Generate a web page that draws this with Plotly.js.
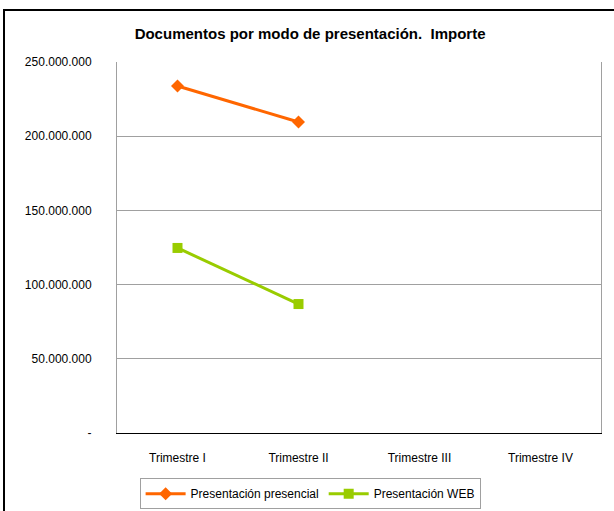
<!DOCTYPE html>
<html><head><meta charset="utf-8">
<script src="https://cdn.plot.ly/plotly-3.0.1.min.js"></script>
<style>
html,body{margin:0;padding:0;overflow:hidden;background:#fff;}
#wrap{position:relative;width:614px;height:511px;}
#chart{position:absolute;left:0;top:0;width:614px;height:511px;}
#frame{position:absolute;left:3px;top:9px;width:700px;height:600px;border:2px solid #000;pointer-events:none;box-sizing:border-box;}
</style></head>
<body><div id="wrap"><div id="chart"></div><div id="frame"></div></div>
<script>
const categories = ["Trimestre I", "Trimestre II", "Trimestre III", "Trimestre IV"];
const presencial = [233800000, 209600000, null, null];
const web = [124700000, 86900000, null, null];
const yTickVals = [0, 50000000, 100000000, 150000000, 200000000, 250000000];
const yTickText = ["-", "50.000.000", "100.000.000", "150.000.000", "200.000.000", "250.000.000"];

const font = "Liberation Sans, Arial, sans-serif";
const traces = [
  {x: categories, y: presencial, name: "Presentación presencial", type: "scatter", mode: "lines+markers",
   line: {color: "#FF6600", width: 3}, marker: {symbol: "diamond", size: 10, color: "#FF6600"}},
  {x: categories, y: web, name: "Presentación WEB", type: "scatter", mode: "lines+markers",
   line: {color: "#99CC00", width: 3}, marker: {symbol: "square", size: 10, color: "#99CC00"}}
];
const layout = {
  width: 614, height: 511,
  margin: {l: 117, r: 13, t: 62, b: 78, autoexpand: false},
  paper_bgcolor: "rgba(0,0,0,0)", plot_bgcolor: "#fff",
  font: {family: font, size: 12, color: "#000"},
  title: {text: "<b>Documentos por modo de presentación.  Importe</b>", x: 0.505, xanchor: "center", y: 0.933, yanchor: "middle",
          font: {family: font, size: 15, color: "#000"}},
  xaxis: {type: "category", range: [-0.5, 3.5], showgrid: false, showline: true, linecolor: "#000", linewidth: 1,
          mirror: false, ticks: "", ticklabelstandoff: 14, tickfont: {size: 12}, zeroline: false, fixedrange: true},
  yaxis: {range: [0, 250000000], tickvals: yTickVals, ticktext: yTickText, showgrid: true, gridcolor: "#A0A0A0", gridwidth: 1,
          showline: true, linecolor: "#A0A0A0", linewidth: 1, mirror: true, zeroline: false, ticks: "",
          ticklabelstandoff: 22, tickfont: {size: 12}, fixedrange: true},
  showlegend: true,
  legend: {orientation: "h", x: 0.399, xanchor: "center", yref: "container", y: 0.064, yanchor: "top",
           bordercolor: "#A0A0A0", borderwidth: 1, bgcolor: "#fff", font: {size: 12}, itemwidth: 40}
};
Plotly.newPlot("chart", traces, layout, {displayModeBar: false, staticPlot: true});
</script></body></html>
